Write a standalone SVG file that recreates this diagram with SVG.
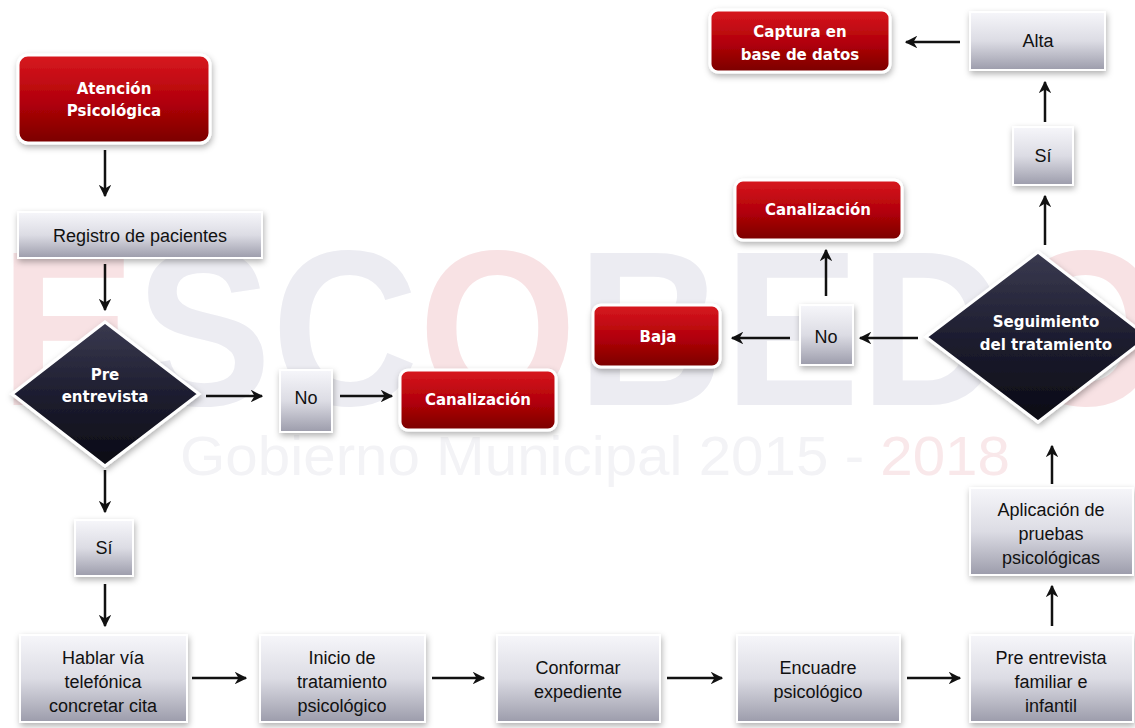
<svg xmlns="http://www.w3.org/2000/svg" width="1135" height="728" viewBox="0 0 1135 728">
<defs>
<linearGradient id="gRed" x1="0" y1="0" x2="0" y2="1">
<stop offset="0" stop-color="#d81820"/><stop offset="0.55" stop-color="#b00008"/><stop offset="1" stop-color="#7a0000"/>
</linearGradient>
<linearGradient id="gGrey" x1="0" y1="0" x2="0" y2="1">
<stop offset="0" stop-color="#f6f6fa"/><stop offset="0.5" stop-color="#dcdce4"/><stop offset="1" stop-color="#9c9cab"/>
</linearGradient>
<linearGradient id="gDark" x1="0" y1="0" x2="0" y2="1">
<stop offset="0" stop-color="#3a3a50"/><stop offset="0.5" stop-color="#1e1e30"/><stop offset="1" stop-color="#0a0a14"/>
</linearGradient>
<filter id="sh" x="-20%" y="-20%" width="140%" height="150%">
<feDropShadow dx="1" dy="3" stdDeviation="3" flood-color="#000" flood-opacity="0.3"/>
</filter>
<marker id="ah" viewBox="0 0 10 10" refX="9" refY="5" markerWidth="5" markerHeight="5" orient="auto" markerUnits="strokeWidth">
<path d="M0,0 L10,5 L0,10 L3,5 z" fill="#111"/>
</marker>
</defs>
<style>
.red{fill:url(#gRed);stroke:#fff;stroke-width:3;filter:url(#sh)}
.grey{fill:url(#gGrey);stroke:#fff;stroke-width:2;filter:url(#sh)}
.dia{fill:url(#gDark);stroke:#fff;stroke-width:3;filter:url(#sh)}
.wt{font-family:"DejaVu Sans",sans-serif;font-weight:bold;font-size:15px;fill:#fff;text-anchor:middle}
.bt{font-family:"Liberation Sans",Arial,sans-serif;font-size:18px;fill:#111;text-anchor:middle}
.conn line{stroke:#111;stroke-width:2.5;marker-end:url(#ah)}
</style>
<rect width="1135" height="728" fill="#ffffff"/>
<g id="watermark">
<text x="0" y="405" font-family="Liberation Sans,Arial,sans-serif" font-weight="bold" font-size="220" textLength="1165" lengthAdjust="spacingAndGlyphs"><tspan fill="#f8e2e4">E</tspan><tspan fill="#ececf2">SC</tspan><tspan fill="#f8e2e4">O</tspan><tspan fill="#ececf2">BED</tspan><tspan fill="#f8e2e4">O</tspan></text>
<text x="180" y="475" font-family="Liberation Sans,Arial,sans-serif" font-size="56" fill="#f3f3f6" textLength="830" lengthAdjust="spacingAndGlyphs">Gobierno Municipal 2015 - <tspan fill="#f9e8ea">2018</tspan></text>
</g>
<g class="conn" id="connectors">
<line x1="105" y1="150" x2="105" y2="196"/>
<line x1="105" y1="264" x2="105" y2="310"/>
<line x1="206" y1="396" x2="262" y2="396"/>
<line x1="340" y1="396" x2="392" y2="396"/>
<line x1="105" y1="470" x2="105" y2="512"/>
<line x1="105" y1="584" x2="105" y2="626"/>
<line x1="192" y1="678" x2="246" y2="678"/>
<line x1="432" y1="678" x2="484" y2="678"/>
<line x1="667" y1="678" x2="722" y2="678"/>
<line x1="907" y1="678" x2="960" y2="678"/>
<line x1="1052" y1="626" x2="1052" y2="586"/>
<line x1="1052" y1="484" x2="1052" y2="446"/>
<line x1="1045" y1="245" x2="1045" y2="196"/>
<line x1="1045" y1="122" x2="1045" y2="82"/>
<line x1="960" y1="42" x2="906" y2="42"/>
<line x1="918" y1="338" x2="860" y2="338"/>
<line x1="826" y1="296" x2="826" y2="250"/>
<line x1="790" y1="338" x2="732" y2="338"/>
</g>
<g id="n-atencion"><rect class="red" x="18" y="55" width="192" height="88" rx="10"/>
<text class="wt" x="114" y="94" font-size="16">Atención</text><text class="wt" x="114" y="116" font-size="16">Psicológica</text></g>
<g id="n-registro"><rect class="grey" x="18" y="212" width="244" height="46"/>
<text class="bt" x="140" y="242">Registro de pacientes</text></g>
<g id="n-pre"><polygon class="dia" points="105,322 199,394 105,466 12,394"/>
<text class="wt" x="105" y="380" font-size="16">Pre</text><text class="wt" x="105" y="402" font-size="16">entrevista</text></g>
<g id="n-no1"><rect class="grey" x="280" y="370" width="52" height="62"/>
<text class="bt" x="306" y="404">No</text></g>
<g id="n-canal1"><rect class="red" x="400" y="370" width="156" height="60" rx="8"/>
<text class="wt" x="478" y="405" font-size="16">Canalización</text></g>
<g id="n-si1"><rect class="grey" x="75" y="520" width="58" height="56"/>
<text class="bt" x="104" y="554">Sí</text></g>
<g id="n-hablar"><rect class="grey" x="20" y="635" width="167" height="87"/>
<text class="bt" x="103" y="664">Hablar vía</text><text class="bt" x="103" y="688">telefónica</text><text class="bt" x="103" y="712">concretar cita</text></g>
<g id="n-inicio"><rect class="grey" x="260" y="635" width="165" height="87"/>
<text class="bt" x="342" y="664">Inicio de</text><text class="bt" x="342" y="688">tratamiento</text><text class="bt" x="342" y="712">psicológico</text></g>
<g id="n-conformar"><rect class="grey" x="497" y="635" width="163" height="87"/>
<text class="bt" x="578" y="674">Conformar</text><text class="bt" x="578" y="698">expediente</text></g>
<g id="n-encuadre"><rect class="grey" x="737" y="635" width="163" height="87"/>
<text class="bt" x="818" y="674">Encuadre</text><text class="bt" x="818" y="698">psicológico</text></g>
<g id="n-preent"><rect class="grey" x="970" y="635" width="163" height="87"/>
<text class="bt" x="1051" y="664">Pre entrevista</text><text class="bt" x="1051" y="688">familiar e</text><text class="bt" x="1051" y="712">infantil</text></g>
<g id="n-aplic"><rect class="grey" x="970" y="488" width="163" height="87"/>
<text class="bt" x="1051" y="516">Aplicación de</text><text class="bt" x="1051" y="540">pruebas</text><text class="bt" x="1051" y="564">psicológicas</text></g>
<g id="n-seguim"><polygon class="dia" points="1038,252 1148,337 1038,422 926,337"/>
<text class="wt" x="1046" y="327">Seguimiento</text><text class="wt" x="1046" y="350">del tratamiento</text></g>
<g id="n-si2"><rect class="grey" x="1013" y="127" width="60" height="58"/>
<text class="bt" x="1043" y="162">Sí</text></g>
<g id="n-alta"><rect class="grey" x="970" y="12" width="135" height="58"/>
<text class="bt" x="1038" y="47">Alta</text></g>
<g id="n-captura"><rect class="red" x="710" y="10" width="180" height="62" rx="8"/>
<text class="wt" x="800" y="37">Captura en</text><text class="wt" x="800" y="60">base de datos</text></g>
<g id="n-no2"><rect class="grey" x="800" y="305" width="53" height="60"/>
<text class="bt" x="826" y="343">No</text></g>
<g id="n-canal2"><rect class="red" x="735" y="180" width="167" height="60" rx="8"/>
<text class="wt" x="818" y="215" font-size="16">Canalización</text></g>
<g id="n-baja"><rect class="red" x="593" y="305" width="127" height="62" rx="8"/>
<text class="wt" x="658" y="342">Baja</text></g>
</svg>
